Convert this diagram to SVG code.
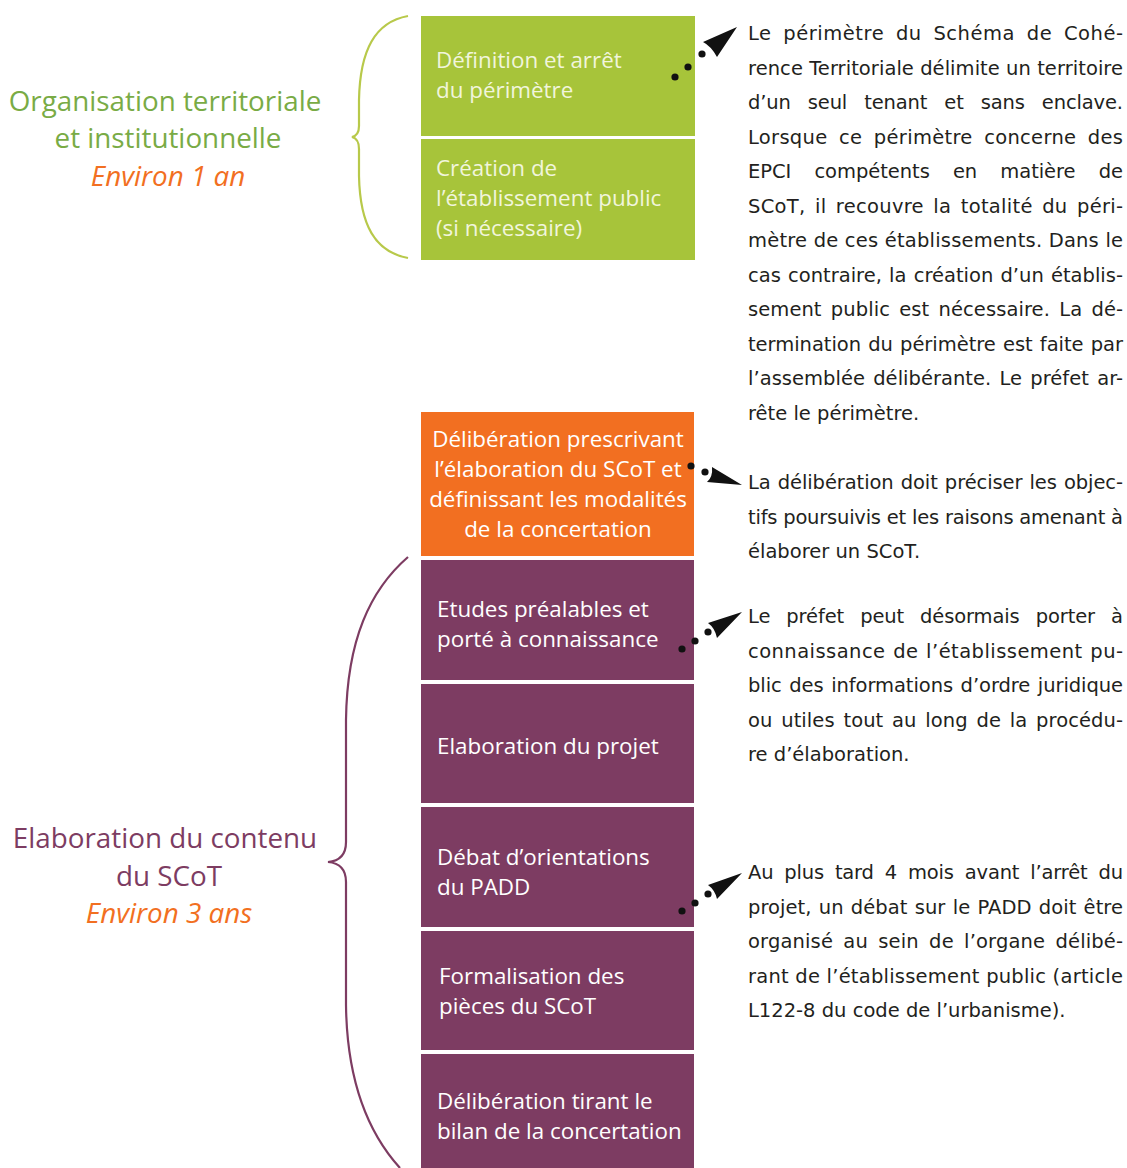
<svg xmlns="http://www.w3.org/2000/svg" width="1127" height="1168" viewBox="0 0 1127 1168">
<style>
.bx{font-family:"Open Sans","Liberation Sans",sans-serif;font-size:22.4px;fill:#ffffff}
.gt{fill:#f1f5dc}
.ttl{font-family:"Open Sans","Liberation Sans",sans-serif;font-size:27.8px;text-anchor:middle}
.it{font-style:italic;fill:#f26f21}
.rt{font-family:"DejaVu Sans","Liberation Sans",sans-serif;font-size:19.5px;fill:#231f20}
.dot{fill:#111111}
.ah{fill:#111111}
</style>
<rect width="1127" height="1168" fill="#ffffff"/>

<!-- left titles and braces -->
<g id="grp-orga">
  <text class="ttl" x="165" y="111" fill="#79ab45">Organisation territoriale</text>
  <text class="ttl" x="168" y="148" fill="#79ab45">et institutionnelle</text>
  <text class="ttl it" x="168" y="186">Environ 1 an</text>
  <path d="M408,16 C375,22 360,50 359,100 L359,126 C359,132 356,136 352,137 C356,138 359,142 359,149 L359,176 C360,225 375,252 408,258" fill="none" stroke="#b8c94a" stroke-width="2.2"/>
</g>
<g id="grp-elab">
  <text class="ttl" x="165" y="848" fill="#7d3c62">Elaboration du contenu</text>
  <text class="ttl" x="169" y="886" fill="#7d3c62">du SCoT</text>
  <text class="ttl it" x="169" y="923">Environ 3 ans</text>
  <path d="M408,557 C370,590 347,640 346,720 L346,842 C346,855 340,861 328,862 C340,863 346,869 346,882 L346,1005 C347,1085 370,1135 400,1168" fill="none" stroke="#7d3c62" stroke-width="2.2"/>
</g>

<!-- boxes -->
<g id="n-definition">
  <rect x="421" y="16" width="274" height="120" fill="#a7c43a"/>
  <text class="bx gt" x="436" y="68">Définition et arrêt</text>
  <text class="bx gt" x="436" y="98">du périmètre</text>
</g>
<g id="n-creation">
  <rect x="421" y="139" width="274" height="121" fill="#a7c43a"/>
  <text class="bx gt" x="436" y="176">Création de</text>
  <text class="bx gt" x="436" y="206">l’établissement public</text>
  <text class="bx gt" x="436" y="236">(si nécessaire)</text>
</g>
<g id="n-prescription">
  <rect x="421" y="412" width="273" height="144" fill="#f26f21"/>
  <text class="bx" x="558" y="447" text-anchor="middle">Délibération prescrivant</text>
  <text class="bx" x="558" y="477" text-anchor="middle">l’élaboration du SCoT et</text>
  <text class="bx" x="558" y="507" text-anchor="middle">définissant les modalités</text>
  <text class="bx" x="558" y="537" text-anchor="middle">de la concertation</text>
</g>
<g id="n-etudes">
  <rect x="421" y="560" width="273" height="120" fill="#7d3c62"/>
  <text class="bx" x="437" y="617">Etudes préalables et</text>
  <text class="bx" x="437" y="647">porté à connaissance</text>
</g>
<g id="n-projet">
  <rect x="421" y="684" width="273" height="119" fill="#7d3c62"/>
  <text class="bx" x="437" y="754">Elaboration du projet</text>
</g>
<g id="n-padd">
  <rect x="421" y="807" width="273" height="120" fill="#7d3c62"/>
  <text class="bx" x="437" y="865">Débat d’orientations</text>
  <text class="bx" x="437" y="895">du PADD</text>
</g>
<g id="n-formalisation">
  <rect x="421" y="931" width="273" height="119" fill="#7d3c62"/>
  <text class="bx" x="439" y="984">Formalisation des</text>
  <text class="bx" x="439" y="1014">pièces du SCoT</text>
</g>
<g id="n-bilan">
  <rect x="421" y="1054" width="273" height="114" fill="#7d3c62"/>
  <text class="bx" x="437" y="1109">Délibération tirant le</text>
  <text class="bx" x="437" y="1139">bilan de la concertation</text>
</g>

<!-- notes -->
<g id="note-perimetre" class="rt">
  <text x="748" y="40" textLength="375" lengthAdjust="spacing" word-spacing="5">Le périmètre du Schéma de Cohé-</text>
  <text x="748" y="74.5" textLength="375" lengthAdjust="spacing">rence Territoriale délimite un territoire</text>
  <text x="748" y="109" textLength="375" lengthAdjust="spacing" word-spacing="11">d’un seul tenant et sans enclave.</text>
  <text x="748" y="143.5" textLength="375" lengthAdjust="spacing" word-spacing="5">Lorsque ce périmètre concerne des</text>
  <text x="748" y="178" textLength="375" lengthAdjust="spacing" word-spacing="17">EPCI compétents en matière de</text>
  <text x="748" y="212.5" textLength="375" lengthAdjust="spacing" word-spacing="3">SCoT, il recouvre la totalité du péri-</text>
  <text x="748" y="247" textLength="375" lengthAdjust="spacing">mètre de ces établissements. Dans le</text>
  <text x="748" y="281.5" textLength="375" lengthAdjust="spacing" word-spacing="1">cas contraire, la création d’un établis-</text>
  <text x="748" y="316" textLength="375" lengthAdjust="spacing" word-spacing="3">sement public est nécessaire. La dé-</text>
  <text x="748" y="350.5" textLength="375" lengthAdjust="spacing" word-spacing="1">termination du périmètre est faite par</text>
  <text x="748" y="385" textLength="375" lengthAdjust="spacing" word-spacing="2">l’assemblée délibérante. Le préfet ar-</text>
  <text x="748" y="419.5">rête le périmètre.</text>
</g>
<g id="note-deliberation" class="rt">
  <text x="748" y="489" textLength="375" lengthAdjust="spacing" word-spacing="1">La délibération doit préciser les objec-</text>
  <text x="748" y="523.5" textLength="375" lengthAdjust="spacing">tifs poursuivis et les raisons amenant à</text>
  <text x="748" y="558">élaborer un SCoT.</text>
</g>
<g id="note-prefet" class="rt">
  <text x="748" y="623" textLength="375" lengthAdjust="spacing" word-spacing="10">Le préfet peut désormais porter à</text>
  <text x="748" y="657.5" textLength="375" lengthAdjust="spacing" word-spacing="1">connaissance de l’établissement pu-</text>
  <text x="748" y="692" textLength="375" lengthAdjust="spacing" word-spacing="1.5">blic des informations d’ordre juridique</text>
  <text x="748" y="726.5" textLength="375" lengthAdjust="spacing" word-spacing="2.5">ou utiles tout au long de la procédu-</text>
  <text x="748" y="761">re d’élaboration.</text>
</g>
<g id="note-padd" class="rt">
  <text x="748" y="879" textLength="375" lengthAdjust="spacing" word-spacing="5">Au plus tard 4 mois avant l’arrêt du</text>
  <text x="748" y="913.5" textLength="375" lengthAdjust="spacing" word-spacing="1">projet, un débat sur le PADD doit être</text>
  <text x="748" y="948" textLength="375" lengthAdjust="spacing" word-spacing="4">organisé au sein de l’organe délibé-</text>
  <text x="748" y="982.5" textLength="375" lengthAdjust="spacing">rant de l’établissement public (article</text>
  <text x="748" y="1017">L122-8 du code de l’urbanisme).</text>
</g>

<!-- connectors -->
<g id="connectors">
  <circle class="dot" cx="675" cy="77" r="3.6"/>
  <circle class="dot" cx="688" cy="67" r="3.6"/>
  <circle class="dot" cx="702" cy="54" r="3.6"/>
  <path class="ah" d="M737,27 L703,42 Q711,46 717,57 Z"/>

  <circle class="dot" cx="691" cy="466" r="3.6"/>
  <circle class="dot" cx="705" cy="472" r="3.6"/>
  <path class="ah" d="M742,485 L712,467 Q713,477 707,482 Z"/>

  <circle class="dot" cx="682" cy="649" r="3.6"/>
  <circle class="dot" cx="695" cy="641" r="3.6"/>
  <circle class="dot" cx="708" cy="632" r="3.6"/>
  <path class="ah" d="M742,612 L708,623 Q715,628 717,638 Z"/>

  <circle class="dot" cx="682" cy="911" r="3.6"/>
  <circle class="dot" cx="695" cy="903" r="3.6"/>
  <circle class="dot" cx="708" cy="894" r="3.6"/>
  <path class="ah" d="M742,873 L708,885 Q715,890 717,899 Z"/>
</g>
</svg>
